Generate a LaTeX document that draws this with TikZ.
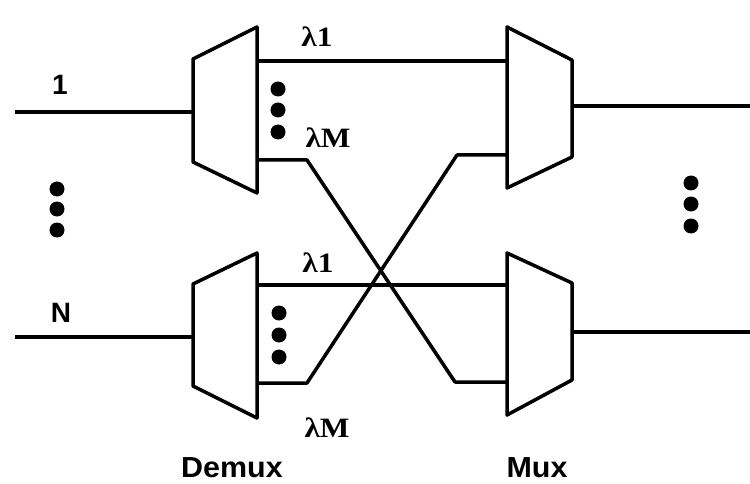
\documentclass[tikz,border=0pt]{standalone}
\usepackage{fontspec}
\setmainfont{Liberation Serif}
\setsansfont{Liberation Sans}
\begin{document}
\begin{tikzpicture}[x=1pt,y=1pt,
  wire/.style={line width=3.5pt, line join=round},
  unit/.style={line width=3.5pt, line join=round},
  bigdot/.style={fill=black, circle, inner sep=0pt, minimum size=15pt},
  lab/.style={font=\bfseries\fontsize{28}{28}\selectfont, inner sep=0pt, anchor=base, xscale=1.12},
  num/.style={font=\sffamily\bfseries\fontsize{28}{28}\selectfont, inner sep=0pt, anchor=base},
  title/.style={font=\sffamily\bfseries\fontsize{29}{29}\selectfont, inner sep=0pt, anchor=base, xscale=1.05}]
\useasboundingbox (0,0) rectangle (750,-484);
% demultiplexers
\draw[unit] (193,-59) -- (257,-27) -- (257,-193) -- (193,-162) -- cycle;
\draw[unit] (193,-284) -- (257,-253) -- (257,-418) -- (193,-386) -- cycle;
% multiplexers
\draw[unit] (507,-27) -- (572,-60) -- (572,-157) -- (507,-188) -- cycle;
\draw[unit] (507,-253) -- (572,-283) -- (572,-380) -- (507,-415) -- cycle;
% ports
\coordinate (in1) at (15,-112);   \coordinate (d1in) at (193,-112);
\coordinate (inN) at (15,-337);   \coordinate (d2in) at (193,-337);
\coordinate (d1a) at (257,-61);   \coordinate (m1a) at (507,-61);
\coordinate (d1m) at (257,-160);  \coordinate (d1k) at (307,-160);
\coordinate (m2bk) at (455,-382); \coordinate (m2b) at (507,-382);
\coordinate (d2a) at (257,-285);  \coordinate (m2a) at (507,-285);
\coordinate (d2m) at (257,-383);  \coordinate (d2k) at (307,-383);
\coordinate (m1bk) at (457,-155); \coordinate (m1b) at (507,-155);
\coordinate (m1out) at (572,-106); \coordinate (out1) at (750,-106);
\coordinate (m2out) at (572,-332); \coordinate (out2) at (750,-332);
% wires
\draw[wire] (in1) -- (d1in);
\draw[wire] (inN) -- (d2in);
\draw[wire] (d1a) -- (m1a);
\draw[wire] (d2a) -- (m2a);
\draw[wire] (d1m) -- (d1k) -- (m2bk) -- (m2b);
\draw[wire] (d2m) -- (d2k) -- (m1bk) -- (m1b);
\draw[wire] (m1out) -- (out1);
\draw[wire] (m2out) -- (out2);
% dots
\foreach \y [count=\i] in {-189,-209,-230} \node[bigdot] (ld\i) at (57,\y) {};
\foreach \y [count=\i] in {-89,-110,-132} \node[bigdot] (ta\i) at (278,\y) {};
\foreach \y [count=\i] in {-313,-335,-357} \node[bigdot] (ba\i) at (279,\y) {};
\foreach \y [count=\i] in {-183,-204,-226} \node[bigdot] (rd\i) at (691,\y) {};
% labels
\node[num] (l1) at (60,-95) {1};
\node[num] (lN) at (61,-322) {N};
\node[lab] (tl1) at (317,-47) {λ1};
\node[lab] (tlM) at (328,-148) {λM};
\node[lab] (bl1) at (318,-272) {λ1};
\node[lab] (blM) at (327,-437) {λM};
\node[title] (cd) at (232,-477) {Demux};
\node[title] (cm) at (537,-477) {Mux};
\end{tikzpicture}
\end{document}
